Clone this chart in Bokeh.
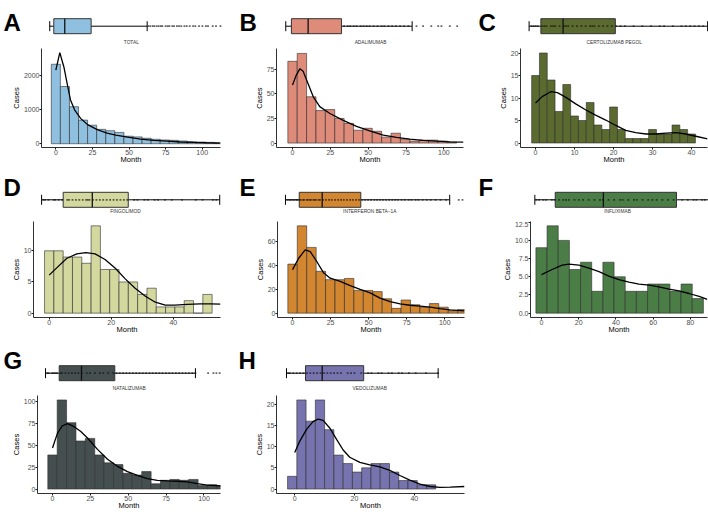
from bokeh.plotting import figure
from bokeh.layouts import column, row
from bokeh.models import Range1d, FixedTicker, PrintfTickFormatter
from bokeh.core.properties import value
from bokeh.embed import file_html
from bokeh.resources import INLINE

FONT = "Liberation Sans"

# ---------------- data ----------------
labels = ["A", "B", "C", "D", "E", "F", "G", "H"]
titles = ["TOTAL", "ADALIMUMAB", "CERTOLIZUMAB PEGOL", "FINGOLIMOD",
          "INTERFERON BETA\u22121A", "INFLIXIMAB", "NATALIZUMAB", "VEDOLIZUMAB"]
colors = ["#8fc0e0", "#df8b7a", "#5b6a2f", "#d3d99e",
          "#d2862f", "#4b7d46", "#454f4f", "#7773af"]

# histogram counts (cases per bin) and bin geometry (months)
a_counts = [2320, 1670, 1080, 690, 540, 420, 380, 330, 220, 200, 160, 130, 110, 100, 80, 60, 50, 40, 30]
b_counts = [83, 91, 47, 33, 34, 25, 20, 13, 15, 12, 6, 10, 4, 2, 3, 3, 2, 1]
c_counts = [15, 20, 14, 7, 13, 6, 5, 9, 4, 3, 8, 3, 1, 1, 1, 3, 2, 2, 4, 3, 2]
d_counts = [10, 10, 9, 9, 8, 14, 7, 7, 5, 5, 3, 4, 1, 1, 1, 2, 0, 3]
e_counts = [41, 73, 55, 35, 28, 28, 29, 19, 19, 18, 12, 4, 11, 7, 5, 8, 5, 2, 3]
f_counts = [9, 12, 10, 6, 7, 3, 7, 5, 3, 3, 4, 4, 3, 4, 2]
g_counts = [39, 102, 76, 55, 58, 39, 30, 28, 18, 16, 20, 6, 10, 11, 10, 11, 4, 5, 4]
h_counts = [3, 21, 16, 21, 14, 8, 6, 4, 5, 6, 6, 4, 2, 2, 1, 1]
bin_start = [-3.1, -3.1, -1.0, -1.5, -3.1, -3.0, -3.1, -2.4]
bin_width = [6.2, 6.2, 2.0, 3.0, 6.2, 6.0, 6.2, 3.1]

# density curves scaled to counts
a_dx = [0, 2.7, 5.5, 7.7, 10, 12.8, 16.9, 22, 28.3, 35, 41, 49, 58, 67, 76, 85, 94, 103, 112]
a_dy = [2150, 2660, 2240, 1760, 1280, 990, 740, 550, 410, 310, 250, 195, 135, 100, 75, 50, 38, 28, 20]
b_dx = [0, 2.5, 4.9, 7, 9.3, 13.7, 18, 24.7, 33.5, 42.3, 51, 60, 68.7, 77.5, 86.3, 95, 104, 113]
b_dy = [59, 69, 75.5, 73, 64, 47, 37, 30, 23, 17, 12.3, 8, 5.7, 4, 2.7, 2, 1.3, 1]
c_dx = [0, 1.7, 3.9, 5.6, 7.7, 10.3, 12.8, 15.4, 18, 20.6, 23.1, 25.7, 28.3, 30.8, 33.4, 36, 38.5, 41.1, 44.1]
c_dy = [8.9, 10.3, 11.4, 11.2, 10.2, 8.7, 7.4, 6.2, 5.1, 3.9, 2.8, 2.3, 2.0, 2.0, 2.2, 2.3, 2.0, 1.5, 0.9]
d_dx = [0, 2.5, 5.7, 8.9, 11.8, 14.8, 18, 21.3, 24.5, 27.7, 31, 34.2, 37.4, 40.6, 44.4, 48.7, 52, 55.2]
d_dy = [6.1, 7.3, 8.8, 9.5, 9.7, 9.5, 8.6, 7.2, 5.5, 4.0, 2.7, 1.75, 1.3, 1.3, 1.4, 1.5, 1.5, 1.45]
e_dx = [0, 3.9, 8.3, 11.6, 16, 20.4, 24.7, 31.3, 37.9, 44.4, 51, 57.5, 64.1, 70.7, 77.2, 83.8, 90.4, 96.9, 103.5, 113]
e_dy = [36.4, 45.7, 53, 51.5, 43, 33.7, 29.2, 26.5, 23, 19.9, 17, 12.5, 9.6, 7.7, 6.6, 5.8, 5, 3.7, 2.7, 1.9]
f_dx = [0, 5.7, 11.1, 14.7, 20.1, 25.5, 30.9, 36.2, 41.6, 47, 52.4, 57.8, 63.1, 68.5, 73.9, 79.3, 84.7, 89.1]
f_dy = [5.3, 6.0, 6.6, 6.75, 6.6, 6.2, 5.7, 5.1, 4.6, 4.25, 4.0, 3.85, 3.6, 3.3, 3.07, 2.7, 2.3, 1.9]
g_dx = [0, 3.3, 6.6, 9.9, 14.3, 18.7, 23.1, 29.7, 36.3, 42.9, 49.5, 56, 62.6, 69.2, 75.8, 82.4, 89, 95.6, 102.2, 111]
g_dy = [47, 64, 72.5, 75, 71.4, 65.8, 58.4, 45.4, 34.2, 26, 20, 15.6, 11.9, 10, 9.3, 8.9, 8.2, 6.3, 4.5, 3.7]
h_dx = [0, 1.7, 3.9, 6.1, 7.8, 9.5, 11.7, 14, 16.2, 18.4, 21.8, 25.1, 28.5, 31.8, 35.2, 38.5, 41.9, 45.3, 48.6, 52, 56.8]
h_dy = [8.6, 11.3, 14, 15.9, 16.5, 16.2, 14.4, 11.7, 9.2, 7.5, 6.3, 5.7, 5.2, 4.4, 3.2, 2.1, 1.15, 0.6, 0.4, 0.46, 0.6]

# box plot summaries: lower whisker, Q1, median, Q3, upper whisker (months)
a_box = [0, 3.1, 11.5, 31.7, 74.6]
b_box = [0, 3.5, 13.9, 34.6, 78.5]
c_box = [0, 2.7, 7.8, 19.8, 41.0]
d_box = [0, 6.3, 14.8, 25.3, 52.0]
e_box = [0, 8.1, 21.6, 44.3, 96.6]
f_box = [0, 7.2, 24.2, 50.0, 87.0]
g_box = [0, 8.3, 21.8, 42.0, 90.9]
h_box = [0, 5.6, 10.5, 22.7, 44.6]

# individual observations plotted over the box plots (months)
a_obs = [75.5, 77, 78.8, 80.1, 81.9, 83.4, 85, 86.2, 88.7, 90.3, 91.6, 93.8, 95.2, 97.4, 99, 100.7,
         103.1, 104.9, 107.2, 109.8, 111.5, 114.3, 116.9, 119.6, 121.2, 124.8, 127.3, 130.7]
b_obs = [36.2, 38.5, 40.1, 42.2, 44.0, 46.5, 48.3, 50.3, 52.1, 54.6, 57.0, 59.5, 61.2, 63.8, 66.1,
         68.4, 71.0, 73.5, 76.2, 81.2, 85.3, 90.4, 94.7, 96.7, 101.9, 106.5]
c_obs = [0.5, 1, 1.5, 2, 3, 3.5, 4, 5, 5.5, 6, 7, 8, 8.5, 9, 10, 11, 12, 13, 14, 14.5, 15, 16, 17,
         18, 19, 20, 21, 22, 24, 26, 28, 30, 31, 33, 35, 36, 37, 38, 39, 40]
d_obs = [0.5, 1, 2, 3.5, 4, 5, 6, 7.5, 8, 9, 10, 11, 12, 13, 13.5, 14, 15, 16, 17, 18, 19, 20, 21,
         22, 23, 24, 25, 27, 28, 30, 31, 33, 34, 36, 38, 41, 45, 47, 50, 51]
e_obs = [1, 2.2, 3, 4.1, 5, 6.3, 7, 8.2, 9, 10.4, 11, 12.5, 13.1, 14.2, 15, 16.4, 17.2, 18.1, 19.5,
         20.3, 22.1, 23.8, 25.6, 27.2, 29.1, 31, 32.7, 34.3, 36.2, 38, 39.6, 41.5, 43.2, 45.1, 46.8,
         48.6, 50.3, 52.2, 53.9, 55.7, 57.4, 59.2, 61, 62.8, 64.5, 66.1, 68.3, 70.2, 72.4, 74.1,
         76.5, 78.2, 80.7, 83.1, 85.4, 88.3, 91.2, 94.5, 101.9, 104.1]
f_obs = [0.5, 1.5, 3, 4, 6, 7, 8.5, 10, 11, 12, 14, 15.5, 17, 19, 21, 23, 24, 26, 28, 30, 31, 33,
         35, 36, 38, 40, 41.5, 43, 45, 47, 49, 52, 54, 56, 57, 59, 60]
g_obs = [1, 2, 4, 5, 6, 7, 9, 10, 12, 14, 16, 18, 20, 22, 25, 27, 30, 33, 35, 38, 41, 43, 45, 47,
         49, 51, 53, 55, 57, 59, 61, 63, 65, 67, 69, 71, 73, 75, 77, 79, 81, 83, 85, 87, 89, 90.9,
         98.6, 101.8, 103.6, 105.6]
h_obs = [0.5, 1, 2, 3, 4, 5, 6, 7, 8, 9, 10, 11, 12, 13, 14, 15, 16, 18, 19, 20, 22, 24, 25, 27,
         28, 30, 31, 33, 34, 36, 38, 41, 44.6]

# axis ticks
x_ticks = [[0, 25, 50, 75, 100], [0, 25, 50, 75, 100], [0, 10, 20, 30, 40], [0, 20, 40],
           [0, 25, 50, 75, 100], [0, 20, 40, 60, 80], [0, 25, 50, 75, 100], [0, 20, 40]]
y_ticks = [[0, 1000, 2000], [0, 25, 50, 75], [0, 5, 10, 15, 20], [0, 5, 10],
           [0, 20, 40, 60], [0, 2.5, 5.0, 7.5, 10.0, 12.5], [0, 25, 50, 75, 100], [0, 5, 10, 15, 20]]

counts = [a_counts, b_counts, c_counts, d_counts, e_counts, f_counts, g_counts, h_counts]
dens_x = [a_dx, b_dx, c_dx, d_dx, e_dx, f_dx, g_dx, h_dx]
dens_y = [a_dy, b_dy, c_dy, d_dy, e_dy, f_dy, g_dy, h_dy]
boxes = [a_box, b_box, c_box, d_box, e_box, f_box, g_box, h_box]
obs = [a_obs, b_obs, c_obs, d_obs, e_obs, f_obs, g_obs, h_obs]

# ---------------- layout ----------------
W = 236
hist_xr = [(-9.8, 112.5), (-10.6, 113), (-3.86, 44.1), (-5.06, 55.2),
           (-9.9, 113), (-5.9, 89.2), (-9.9, 110.9), (-6.1, 56.8)]
hist_yr = [(-110, 2780), (-4.5, 96), (-1, 21), (-0.7, 14.7),
           (-3.65, 76.65), (-0.6, 12.6), (-5.1, 107.1), (-1.05, 22.05)]
frame_lr = [(41, 16), (40, 9), (48, 1), (33, 16), (41, 8), (58, 1), (37, 16), (40, 8)]
box_xr = [(-37.7, 143.0), (-30.6, 116.0), (-13.0, 41.2), (-12.0, 56.9),
          (-28.8, 110.0), (-22.0, 61.3), (-27.3, 115.8), (-14.7, 54.7)]
title_x = [130.8, 134, 141.7, 125, 133.3, 145, 128.7, 133.3]
letter_x = [3, 3, 6, 3, 3, 6, 3, 2]
# per row: box height, box centre, letter baseline, title y, hist height, hist bottom border
rows = [dict(bh=48, yc=25.7, ly=22, ty=42.3, hh=118, hb=19),
        dict(bh=55, yc=33.3, ly=21, ty=44.5, hh=119, hb=23),
        dict(bh=55, yc=32.7, ly=20, ty=48.3, hh=117, hb=18)]


def box_fig(i, r):
    h = r["bh"]
    yc = r["yc"]
    p = figure(width=W, height=h, x_range=Range1d(*box_xr[i]), y_range=Range1d(h, 0),
               output_backend="svg", toolbar_location=None,
               x_axis_location=None, y_axis_location=None, frame_align=False,
               min_border=0, min_border_left=0, min_border_right=0,
               min_border_top=0, min_border_bottom=0,
               outline_line_color=None, background_fill_color="white",
               border_fill_color="white")
    p.xgrid.visible = False
    p.ygrid.visible = False
    p.extra_x_ranges = {"px": Range1d(0, W)}
    lo, q1, med, q3, hi = boxes[i]
    p.segment(x0=[lo], y0=[yc], x1=[hi], y1=[yc], line_color="black", line_width=1)
    p.segment(x0=[lo, hi], y0=[yc - 5, yc - 5], x1=[lo, hi], y1=[yc + 5, yc + 5],
              line_color="black", line_width=1)
    p.quad(left=[q1], right=[q3], top=[yc - 7.5], bottom=[yc + 7.5],
           fill_color=colors[i], line_color="#333333", line_width=1)
    p.segment(x0=[med], y0=[yc - 7.5], x1=[med], y1=[yc + 7.5],
              line_color="#111111", line_width=1.3)
    p.scatter(x=obs[i], y=[yc] * len(obs[i]), marker="square", size=1.8,
              fill_color="#111111", line_color=None, fill_alpha=0.65)
    p.text(x=[letter_x[i]], y=[r["ly"]], text=[labels[i]], x_range_name="px",
           text_font=value(FONT), text_font_style="bold", text_font_size="24px",
           text_align="left", text_baseline="alphabetic", text_color="black")
    p.text(x=[title_x[i]], y=[r["ty"]], text=[titles[i]], x_range_name="px",
           text_font=value(FONT), text_font_size="4.8px", text_align="center",
           text_baseline="middle", text_color="#333333")
    return p


def hist_fig(i, r):
    left, right = frame_lr[i]
    p = figure(width=W, height=r["hh"], x_range=Range1d(*hist_xr[i]),
               y_range=Range1d(*hist_yr[i]), output_backend="svg",
               toolbar_location=None, frame_align=False,
               min_border_left=left, min_border_right=right,
               min_border_top=0, min_border_bottom=r["hb"],
               outline_line_color=None, background_fill_color="white",
               border_fill_color="white")
    p.xgrid.visible = False
    p.ygrid.visible = False
    c = counts[i]
    lefts = [bin_start[i] + k * bin_width[i] for k in range(len(c))]
    rights = [x + bin_width[i] for x in lefts]
    p.quad(left=lefts, right=rights, bottom=0, top=c, fill_color=colors[i],
           line_color="#2e2e2e", line_width=0.6)
    p.line(dens_x[i], dens_y[i], line_color="black", line_width=1.3)
    p.xaxis.ticker = FixedTicker(ticks=x_ticks[i])
    p.yaxis.ticker = FixedTicker(ticks=y_ticks[i])
    if i == 5:
        p.yaxis.formatter = PrintfTickFormatter(format="%.1f")
    p.xaxis.axis_label = "Month"
    p.yaxis.axis_label = "Cases"
    for ax in (p.xaxis, p.yaxis):
        ax.axis_line_color = "#1a1a1a"
        ax.axis_line_width = 0.9
        ax.major_tick_line_color = "#1a1a1a"
        ax.major_tick_in = 0
        ax.major_tick_out = 2
        ax.minor_tick_in = 0
        ax.minor_tick_out = 0
        ax.major_label_standoff = 0
        ax.major_label_text_font = FONT
        ax.major_label_text_font_size = "7px"
        ax.major_label_text_color = "#4d4d4d"
        ax.axis_label_text_font = FONT
        ax.axis_label_text_font_size = "7.5px"
        ax.axis_label_text_font_style = "normal"
        ax.axis_label_text_color = "black"
    p.xaxis.axis_label_standoff = -3
    p.yaxis.axis_label_standoff = 0
    return p


def panel(i, r):
    return column(box_fig(i, r), hist_fig(i, r), spacing=0)


layout = column(
    row(panel(0, rows[0]), panel(1, rows[0]), panel(2, rows[0]), spacing=0),
    row(panel(3, rows[1]), panel(4, rows[1]), panel(5, rows[1]), spacing=0),
    row(panel(6, rows[2]), panel(7, rows[2]), spacing=0),
    spacing=0,
)

open("out.html", "w").write(file_html(layout, INLINE))
